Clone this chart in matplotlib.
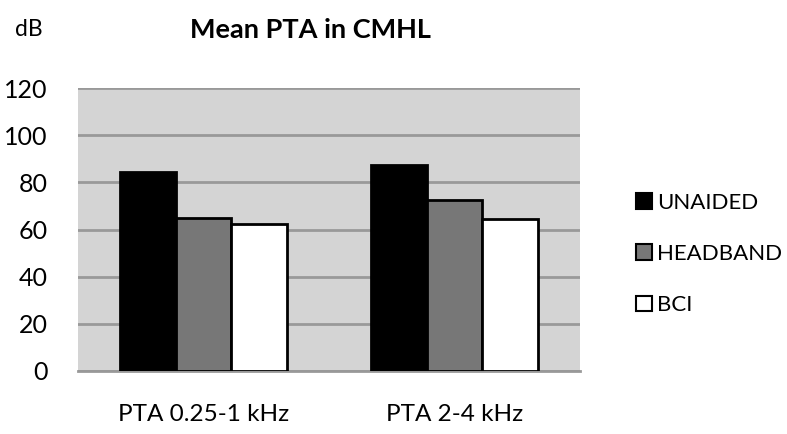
import numpy as np
import matplotlib.pyplot as plt
from matplotlib.patches import Patch

plt.rcParams['font.family'] = ['Lato', 'DejaVu Sans']

categories = ["PTA 0.25-1 kHz", "PTA 2-4 kHz"]
series = ["UNAIDED", "HEADBAND", "BCI"]
unaided = [84.5, 87.2]
headband = [65.0, 72.5]
bci = [62.2, 64.3]

colors = ["#000000", "#777777", "#ffffff"]

fig = plt.figure(figsize=(7.87, 4.34), dpi=100)
ax = fig.add_axes([78/787, 1 - 371/434, (580-78)/787, (371-88)/434])
ax.set_facecolor("#d4d4d4")

x = np.arange(len(categories))
w = 1 / 4.5
vals = [unaided, headband, bci]
for i, v in enumerate(vals):
    ax.bar(x + (i - 1) * w, v, w, color=colors[i], edgecolor="black",
           linewidth=2, zorder=3, label=series[i])

ax.set_xlim(-0.5, 1.5)
ax.set_ylim(0, 120)
ax.set_yticks(range(0, 121, 20))
ax.yaxis.grid(True, color="#999999", linewidth=2, zorder=0)
ax.set_axisbelow(True)
for s in ["top", "right", "left"]:
    ax.spines[s].set_visible(False)
ax.spines["bottom"].set_color("#999999")
ax.spines["bottom"].set_linewidth(2)
ax.tick_params(length=0, labelsize=18)
ax.tick_params(axis="y", pad=22)
ax.tick_params(axis="x", pad=24)
ax.set_xticks(x)
ax.set_xticklabels(categories, fontsize=17.5)

fig.text(310/787, 1 - 30/434, "Mean PTA in CMHL", fontsize=19.5, fontweight="bold",
         ha="center", va="center")
fig.text(15/787, 1 - 30/434, "dB", fontsize=16.5, ha="left", va="center")

handles = [Patch(facecolor=c, edgecolor="black", linewidth=1.5) for c in colors]
fig.legend(handles, series, loc="center left", bbox_to_anchor=(636/787, 1 - 254/434),
           frameon=False, fontsize=16, handlelength=0.7, handleheight=0.7,
           handletextpad=0.25, labelspacing=1.4, borderpad=0, borderaxespad=0)

fig.savefig("out.png", dpi=100)
